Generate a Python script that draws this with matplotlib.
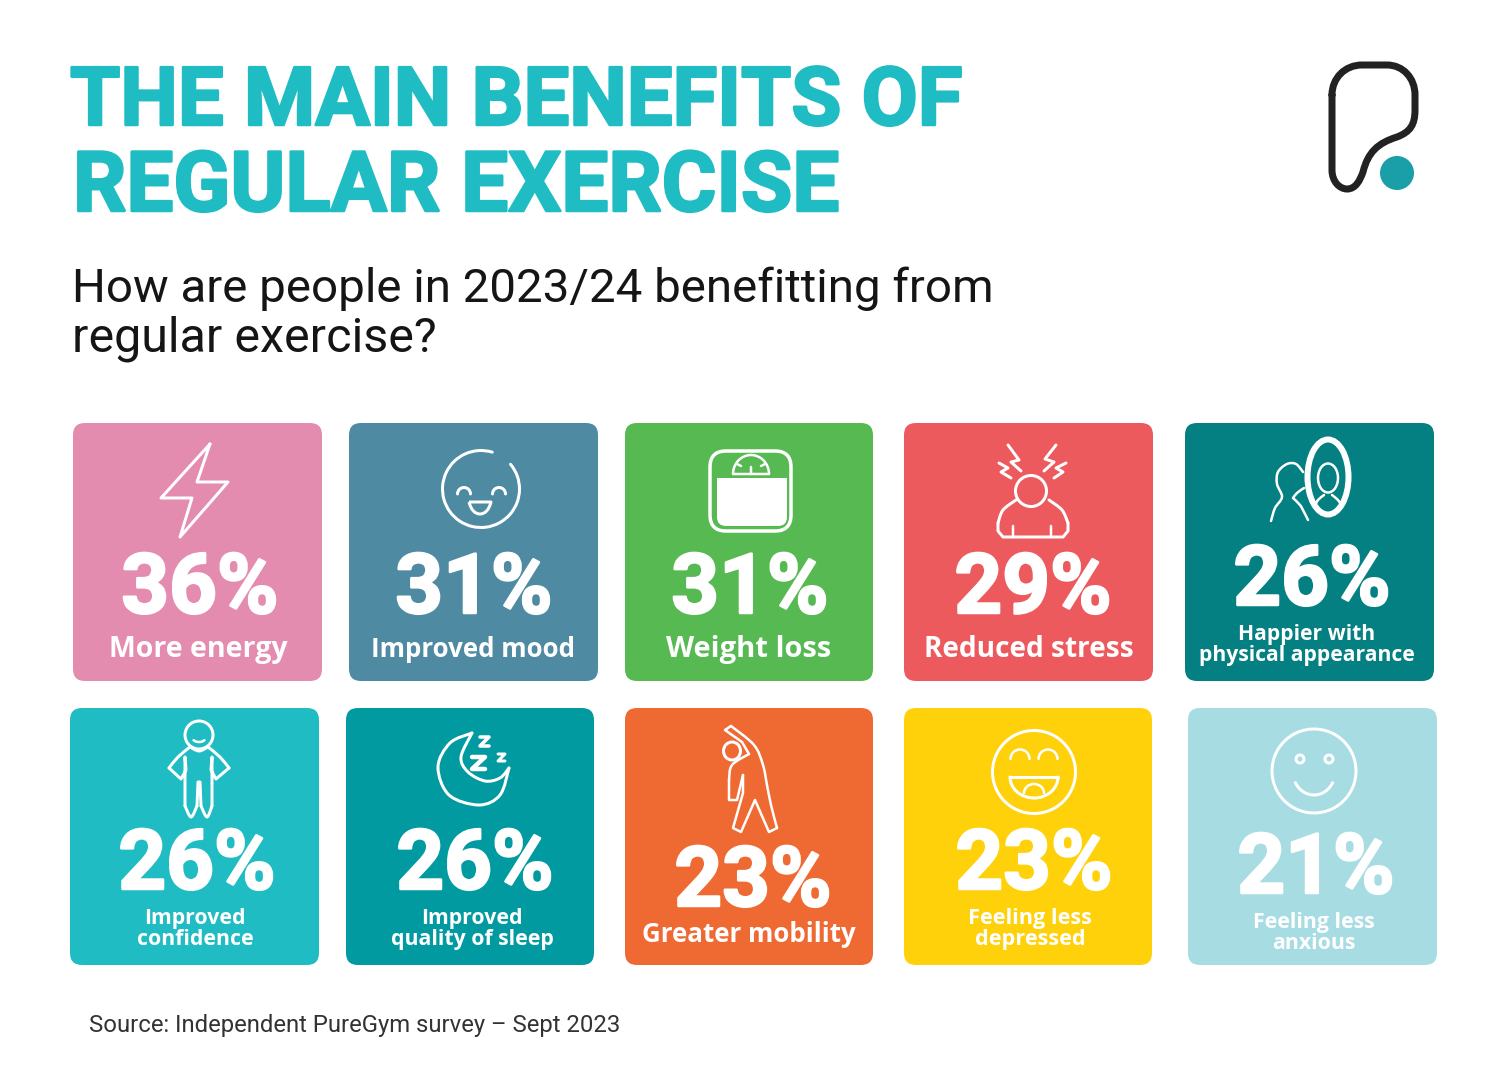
import matplotlib
matplotlib.use("Agg")
import matplotlib.pyplot as plt
import matplotlib.patheffects as pe
from matplotlib.patches import FancyBboxPatch, Circle, Ellipse, Arc, PathPatch, Polygon, Rectangle
from matplotlib.path import Path
import numpy as np

# ---------- data ----------
categories = ["More energy", "Improved mood", "Weight loss", "Reduced stress",
              "Happier with\nphysical appearance", "Improved\nconfidence",
              "Improved\nquality of sleep", "Greater mobility",
              "Feeling less\ndepressed", "Feeling less\nanxious"]
values = [36, 31, 31, 29, 26, 26, 26, 23, 23, 21]
title_lines = ["THE MAIN BENEFITS OF", "REGULAR EXERCISE"]
subtitle_lines = ["How are people in 2023/24 benefitting from", "regular exercise?"]
source = "Source: Independent PureGym survey – Sept 2023"

# ---------- style / layout ----------
colors = ["#E48BB0", "#4E8BA3", "#56B952", "#EC5A5E", "#047F82",
          "#20BCC3", "#029AA1", "#EF6A33", "#FFD10A", "#A8DCE3"]
boxes = [(73, 423, 322, 681), (349, 423, 598, 681), (625, 423, 873, 681),
         (904, 423, 1153, 681), (1185, 423, 1434, 681),
         (70, 708, 319, 965), (346, 708, 594, 965), (625, 708, 873, 965),
         (904, 708, 1152, 965), (1188, 708, 1437, 965)]
num_x = [200, 474, 750, 1033, 1312, 197, 475, 753, 1034, 1316]
num_base = [613, 613, 613, 613, 605, 889, 889, 906, 889, 893]
lab_x = [198, 473, 749, 1029, 1307, 195, 472, 749, 1030, 1314]
lab_base = [657, 657, 657, 657, 661, 945, 945, 942, 945, 949]
lab_size = [20.5, 18.6, 21, 20.2, 15.2, 15.3, 15.3, 18.6, 15.6, 15.3]
TEAL = "#1FBDC3"
FONT = "Roboto"
LABFONT = "Open Sans"
W = "white"

fig = plt.figure(figsize=(15, 10.76), dpi=100, facecolor="white")
ax = fig.add_axes([0, 0, 1, 1])
ax.set_xlim(0, 1500)
ax.set_ylim(1076, 0)
ax.axis("off")


def px(p):
    return p * 0.72


def line(pts, lw=3, color=W, closed=False):
    pts = list(pts)
    if closed:
        pts = pts + [pts[0]]
    a = np.array(pts, float)
    ax.plot(a[:, 0], a[:, 1], color=color, lw=px(lw), solid_capstyle="round",
            solid_joinstyle="round", zorder=4)


def smooth(pts, lw=3, color=W, closed=False):
    P = [np.array(p, float) for p in pts]
    n = len(P)
    verts = [P[0]]
    codes = [Path.MOVETO]
    segs = n if closed else n - 1
    for i in range(segs):
        p0 = P[(i - 1) % n] if (closed or i > 0) else P[i]
        p1 = P[i]
        p2 = P[(i + 1) % n]
        p3 = P[(i + 2) % n] if (closed or i + 2 < n) else p2
        verts += [p1 + (p2 - p0) / 6, p2 - (p3 - p1) / 6, p2]
        codes += [Path.CURVE4] * 3
    ax.add_patch(PathPatch(Path(verts, codes), fc="none", ec=color, lw=px(lw),
                           capstyle="round", joinstyle="round", zorder=4))


def arc(cx, cy, w, h, a, b, lw=3, color=W):
    # the y axis is inverted, so negative angles open upwards on screen
    ax.add_patch(Arc((cx, cy), w, h, theta1=a, theta2=b, color=color, lw=px(lw),
                     capstyle="round", zorder=4))


def ell(cx, cy, w, h, lw=3, color=W):
    ax.add_patch(Ellipse((cx, cy), w, h, fc="none", ec=color, lw=px(lw), zorder=4))


def heavy(color, width):
    return [pe.withStroke(linewidth=px(width), foreground=color)]


# ---------- title block ----------
ax.text(70, 125, title_lines[0], fontsize=58.6, family=FONT, weight="bold", color=TEAL,
        va="baseline", path_effects=heavy(TEAL, 2.5))
ax.text(73, 211, title_lines[1], fontsize=60.2, family=FONT, weight="bold", color=TEAL,
        va="baseline", path_effects=heavy(TEAL, 2.5))
ax.text(72, 302, subtitle_lines[0], fontsize=34.2, family=FONT, color="#151515", va="baseline")
ax.text(72, 351, subtitle_lines[1], fontsize=34.8, family=FONT, color="#151515", va="baseline")
ax.text(89, 1032, source, fontsize=17.2, family=FONT, color="#333333", va="baseline")

# ---------- tiles ----------
for (x0, y0, x1, y1), c in zip(boxes, colors):
    ax.add_patch(FancyBboxPatch((x0, y0), x1 - x0, y1 - y0,
                                boxstyle="round,pad=0,rounding_size=12",
                                fc=c, ec="none", zorder=2))
for v, x, y in zip(values, num_x, num_base):
    ax.text(x, y, f"{v}%", fontsize=60, family=FONT, weight="bold", color=W,
            ha="center", va="baseline", zorder=5, path_effects=heavy(W, 2.5))
for lab, x, y, size in zip(categories, lab_x, lab_base, lab_size):
    parts = lab.split("\n")
    for i, s in enumerate(parts):
        ax.text(x, y - 21 * (len(parts) - 1 - i), s, fontsize=size, family=LABFONT,
                weight="bold", color=W, ha="center", va="baseline", zorder=5)

# ---------- logo ----------
logo_v = [(1332, 95), (1332, 170),
          (1332, 182), (1340, 189), (1347, 189),
          (1356, 189), (1360, 180), (1363, 172),
          (1368, 152), (1378, 143), (1397, 137),
          (1410, 132), (1415, 125), (1415, 110),
          (1415, 95),
          (1415, 78), (1403, 65), (1387, 65),
          (1362, 65),
          (1345, 65), (1332, 78), (1332, 95)]
logo_c = [Path.MOVETO, Path.LINETO] + [Path.CURVE4] * 12 + [Path.LINETO] + [Path.CURVE4] * 3 + \
         [Path.LINETO] + [Path.CURVE4] * 3
ax.add_patch(PathPatch(Path(logo_v, logo_c), fc="none", ec="#222222", lw=px(7),
                       joinstyle="round", capstyle="round", zorder=4))
ax.add_patch(Circle((1397, 173), 17, fc="#1A9EA8", ec="none", zorder=4))

# ---------- icons ----------
# energy
line([(210, 444), (161, 498), (192, 498), (180, 537), (228, 482), (197, 482)], closed=True)
# mood
arc(481, 489, 77, 77, -40, 287)
arc(464, 494, 13, 13, 180, 360)
arc(499, 494, 13, 13, 180, 360)
ax.add_patch(PathPatch(Path([(469, 502), (491, 502), (488, 514), (480, 514), (472, 514), (469, 502)],
                            [Path.MOVETO, Path.LINETO, Path.CURVE3, Path.CURVE3, Path.CURVE3, Path.CURVE3]),
                       fc="none", ec=W, lw=px(3), joinstyle="round", zorder=4))
# scale
ax.add_patch(FancyBboxPatch((710, 451), 81, 80, boxstyle="round,pad=0,rounding_size=16",
                            fc="none", ec=W, lw=px(3.5), zorder=4))
ax.add_patch(FancyBboxPatch((717, 485), 70, 41, boxstyle="round,pad=0,rounding_size=9",
                            fc=W, ec="none", zorder=4))
ax.add_patch(Rectangle((717, 478), 70, 20, fc=W, ec="none", zorder=4))
arc(751, 474, 36, 38, 180, 360, lw=2.5)
line([(733, 474), (769, 474)], lw=2.5)
line([(751, 474), (751, 467)], lw=2.5)
line([(737, 464), (741, 466)], lw=2.5)
line([(765, 464), (761, 466)], lw=2.5)
# stress
ell(1031, 491, 31, 31)
smooth([(1016, 500), (1003, 510), (998, 523)], lw=3)
line([(998, 523), (998, 531), (1003, 537), (1063, 537), (1068, 531), (1068, 523)])
smooth([(1068, 523), (1062, 510), (1049, 500)], lw=3)
line([(1013, 526), (1013, 537)], lw=2.5)
line([(1051, 526), (1051, 537)], lw=2.5)
line([(1008, 445), (1019, 460), (1011, 462), (1021, 471)])
line([(999, 463), (1008, 468), (1001, 472), (1011, 478)])
line([(1056, 445), (1045, 459), (1054, 462), (1044, 471)])
line([(1066, 463), (1056, 468), (1063, 472), (1054, 478)])
# appearance
ell(1328, 477, 41, 75, lw=6)
ell(1328, 478, 20, 29, lw=2.5)
smooth([(1315, 506), (1318, 500), (1324, 495)], lw=2.5)
smooth([(1332, 495), (1338, 500), (1341, 505)], lw=2.5)
smooth([(1303, 472), (1296, 464), (1287, 464), (1278, 472), (1277, 484), (1282, 497), (1275, 508), (1271, 521)], lw=2.5)
smooth([(1293, 498), (1300, 505), (1304, 512), (1308, 520)], lw=2.5)
smooth([(1304, 488), (1297, 493), (1293, 498)], lw=2.5)
# confidence
ell(199, 735, 28, 28)
arc(199, 737, 14, 10, 30, 150, lw=2.5)
smooth([(190, 747), (178, 757), (169, 768)], lw=3)
line([(169, 768), (181, 779), (186, 770), (185, 757), (185, 806)])
smooth([(185, 806), (191, 817), (197, 806)], lw=3)
line([(197, 806), (198, 782), (200, 782), (201, 806)])
smooth([(201, 806), (207, 817), (212, 806)], lw=3)
line([(212, 806), (212, 757), (211, 770), (216, 779), (229, 768)])
smooth([(229, 768), (220, 757), (208, 747)], lw=3)
smooth([(190, 747), (199, 751), (208, 747)], lw=3)
# sleep
smooth([(472, 733), (450, 743), (438, 767), (449, 795), (479, 805), (500, 795), (509, 768)], lw=3)
smooth([(472, 733), (461, 757), (468, 772), (485, 781), (500, 778), (509, 768)], lw=3)
line([(480, 737), (489, 737), (480, 746), (489, 746)], lw=3.5)
line([(472, 757), (485, 757), (472, 769), (485, 769)], lw=4.5)
line([(498, 754), (505, 754), (498, 761), (505, 761)], lw=3)
# mobility
ell(732, 751, 17, 18, lw=3)
smooth([(731, 726), (754, 745), (763, 765), (767, 785), (771, 805), (777, 828)], lw=2.5)
line([(777, 828), (769, 832), (755, 800), (741, 832), (733, 828), (743, 793), (743, 775)], lw=2.5)
line([(743, 775), (737, 800), (729, 800), (729, 780)], lw=2.5)
smooth([(729, 780), (732, 765), (749, 754)], lw=2.5)
line([(749, 754), (742, 742), (725, 730), (731, 726)], lw=2.5)
# depressed
ell(1034, 772, 83, 83)
arc(1020, 759, 19, 19, 180, 360, lw=2.5)
arc(1048, 759, 19, 19, 180, 360, lw=2.5)
line([(1010, 777), (1058, 777)], lw=3)
arc(1034, 777, 48, 42, 0, 180, lw=3)
arc(1034, 793, 20, 18, 180, 360, lw=2.5)
# anxious
ell(1314, 771, 84, 84)
ell(1300, 759, 8, 8, lw=3)
ell(1329, 759, 8, 8, lw=3)
arc(1314, 772, 42, 46, 30, 150, lw=3)

fig.savefig("out.png", dpi=100, facecolor="white")
